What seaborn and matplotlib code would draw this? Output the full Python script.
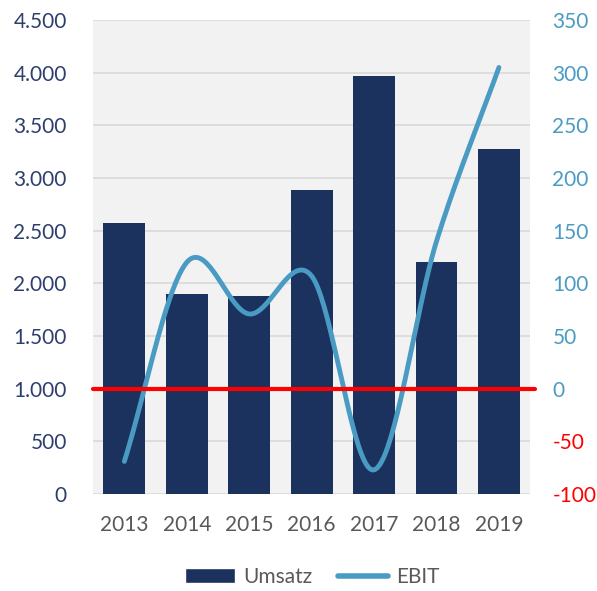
"""Umsatz (bars) and EBIT (smoothed line) per year, dual axis."""
import matplotlib

matplotlib.use("Agg")
import matplotlib.pyplot as plt
import numpy as np
import pandas as pd
import seaborn as sns
from matplotlib.lines import Line2D
from matplotlib.patches import Patch

years = ["2013", "2014", "2015", "2016", "2017", "2018", "2019"]
umsatz = [2570, 1900, 1880, 2890, 3970, 2200, 3280]
ebit = [-69, 120, 71, 107, -77, 140, 305]

left_ticks = [0, 500, 1000, 1500, 2000, 2500, 3000, 3500, 4000, 4500]
right_ticks = [-100, -50, 0, 50, 100, 150, 200, 250, 300, 350]

NAVY = "#1b315e"
LINE_BLUE = "#4a9bc3"
BG = "#f2f2f2"


def catmull_rom(x, y, steps=40):
    """Smooth curve through the points, like the spreadsheet's smoothed line."""
    x = np.asarray(x, float)
    y = np.asarray(y, float)
    px = np.concatenate([[2 * x[0] - x[1]], x, [2 * x[-1] - x[-2]]])
    py = np.concatenate([[2 * y[0] - y[1]], y, [2 * y[-1] - y[-2]]])
    xs, ys = [], []
    t = np.linspace(0, 1, steps, endpoint=False)
    for i in range(1, len(px) - 2):
        for p, out in ((px, xs), (py, ys)):
            p0, p1, p2, p3 = p[i - 1], p[i], p[i + 1], p[i + 2]
            out.extend(
                0.5
                * (
                    2 * p1
                    + (-p0 + p2) * t
                    + (2 * p0 - 5 * p1 + 4 * p2 - p3) * t**2
                    + (-p0 + 3 * p1 - 3 * p2 + p3) * t**3
                )
            )
    xs.append(x[-1])
    ys.append(y[-1])
    return np.array(xs), np.array(ys)


sns.set_style("white")
plt.rcParams["font.family"] = ["Lato", "DejaVu Sans"]

fig = plt.figure(figsize=(5.97, 5.91), dpi=100)
ax = fig.add_axes([0.156, 0.164, 0.732, 0.802])
ax.set_facecolor(BG)

df = pd.DataFrame({"year": years, "umsatz": umsatz})
sns.barplot(data=df, x="year", y="umsatz", color=NAVY, width=0.67, saturation=1,
            linewidth=0, ax=ax, zorder=3)

ax.set_ylim(0, 4500)
ax.set_xlim(-0.5, 6.5)
ax.set_yticks(left_ticks)
ax.set_yticklabels([f"{v:,}".replace(",", ".") for v in left_ticks])
ax.yaxis.grid(True, color="#d9d9d9", linewidth=1.2, zorder=0)
ax.set_axisbelow(True)
ax.tick_params(axis="y", colors="#2e3f6e", labelsize=15, length=0, pad=19)
ax.tick_params(axis="x", colors="#595959", labelsize=15, length=0, pad=15)
ax.set_xlabel("")
ax.set_ylabel("")
for s in ax.spines.values():
    s.set_visible(False)

ax2 = ax.twinx()
sx, sy = catmull_rom(np.arange(len(years)), ebit)
sns.lineplot(x=sx, y=sy, sort=False, color=LINE_BLUE, linewidth=3.5, ax=ax2,
             solid_capstyle="round", zorder=4)
ax2.set_ylim(-100, 350)
ax2.set_yticks(right_ticks)
ax2.set_yticklabels([str(v) for v in right_ticks])
ax2.tick_params(axis="y", labelsize=15, length=0, pad=16)
for lbl, v in zip(ax2.get_yticklabels(), right_ticks):
    lbl.set_color("#ff0000" if v < 0 else LINE_BLUE)
for s in ax2.spines.values():
    s.set_visible(False)

# zero line for EBIT
ax2.axhline(0, xmin=0, xmax=1.01, color="#ff0000", linewidth=3, zorder=5, clip_on=False)

handles = [
    Patch(facecolor=NAVY, label="Umsatz"),
    Line2D([0], [0], color=LINE_BLUE, linewidth=4, label="EBIT"),
]
fig.legend(handles=handles, loc="lower center", bbox_to_anchor=(0.523, -0.025), ncol=2,
           frameon=False, fontsize=15, handlelength=2.4, handletextpad=0.4,
           columnspacing=1.2, labelcolor="#595959")

fig.savefig("out.png", dpi=100)
